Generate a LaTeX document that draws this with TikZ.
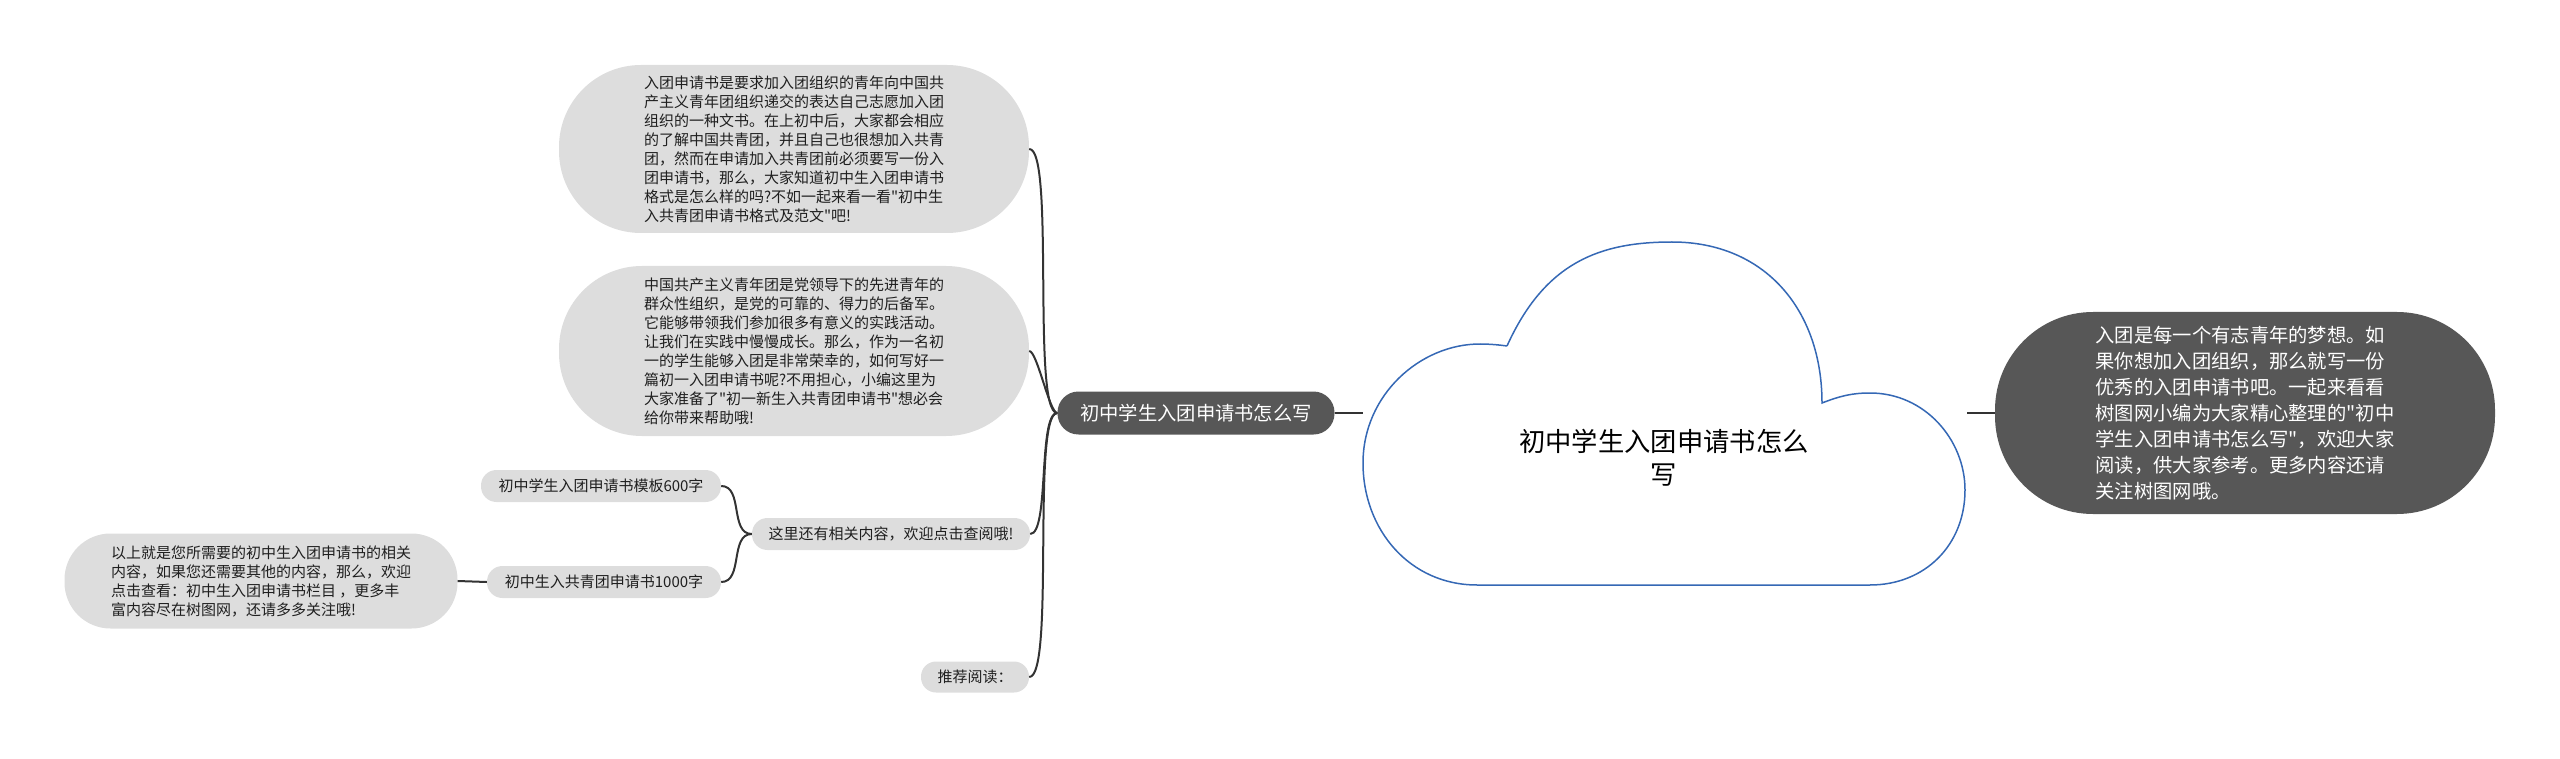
\documentclass[tikz,border=0pt]{standalone}
\usepackage{fontspec}
\usepackage{tikz}
\newfontfamily\cjk{Noto Sans CJK SC}[Ligatures=TeXOff]
\definecolor{bubc}{HTML}{DDDDDD}
\definecolor{darkc}{HTML}{575757}
\definecolor{linec}{HTML}{333333}
\definecolor{cloudc}{HTML}{3568B5}
\newcommand{\fs}[2]{\fontsize{#1pt}{#2pt}\selectfont}

\begin{document}
\begin{tikzpicture}[x=1pt,y=-1pt,
  bub/.style={fill=bubc,text=black!88,inner sep=0pt,align=left,font=\cjk\fs{15}{19}},
  dark/.style={fill=darkc,text=white,inner sep=0pt,align=left,font=\cjk\fs{19.3}{26}},
  ln/.style={draw=linec,line width=2pt}]
\useasboundingbox (0,0) rectangle (2560,759);
% cloud in the middle
\draw[cloudc,line width=1.5pt,fill=white] (1507,346)
  .. controls (1545,262) and (1600,242) .. (1672,242)
  .. controls (1765,242) and (1822,310) .. (1822,403)
  .. controls (1840,396) and (1852,393) .. (1870,393)
  .. controls (1925,393) and (1965,440) .. (1965,490)
  .. controls (1965,545) and (1925,585) .. (1870,585)
  -- (1477,585)
  .. controls (1410,585) and (1363,530) .. (1363,463)
  .. controls (1363,395) and (1420,344) .. (1480,344)
  .. controls (1490,344) and (1500,345) .. (1507,346);
\node[font=\cjk\fs{26.3}{33},align=center] (root) at (1664,458) {初中学生入团申请书怎么\\写};
\coordinate (rootw) at (1363,413);
\coordinate (roote) at (1967,413);
% right side
\node[dark,minimum width=500pt,minimum height=202pt,rounded corners=98pt] (intro) at (2245,413) {入团是每一个有志青年的梦想。如\\果你想加入团组织，那么就写一份\\优秀的入团申请书吧。一起来看看\\树图网小编为大家精心整理的"初中\\学生入团申请书怎么写"，欢迎大家\\阅读，供大家参考。更多内容还请\\关注树图网哦。};
% left branch
\node[dark,minimum width=277pt,minimum height=43pt,rounded corners=21pt] (br) at (1196,413) {初中学生入团申请书怎么写};
\node[bub,minimum width=470pt,minimum height=168pt,rounded corners=82pt] (a) at (794,149) {入团申请书是要求加入团组织的青年向中国共\\产主义青年团组织递交的表达自己志愿加入团\\组织的一种文书。在上初中后，大家都会相应\\的了解中国共青团，并且自己也很想加入共青\\团，然而在申请加入共青团前必须要写一份入\\团申请书，那么，大家知道初中生入团申请书\\格式是怎么样的吗?不如一起来看一看"初中生\\入共青团申请书格式及范文"吧!};
\node[bub,minimum width=470pt,minimum height=170pt,rounded corners=83pt] (b) at (794,351) {中国共产主义青年团是党领导下的先进青年的\\群众性组织，是党的可靠的、得力的后备军。\\它能够带领我们参加很多有意义的实践活动。\\让我们在实践中慢慢成长。那么，作为一名初\\一的学生能够入团是非常荣幸的，如何写好一\\篇初一入团申请书呢?不用担心，小编这里为\\大家准备了"初一新生入共青团申请书"想必会\\给你带来帮助哦!};
\node[bub,minimum width=278pt,minimum height=32pt,rounded corners=15.5pt] (more) at (891,534) {这里还有相关内容，欢迎点击查阅哦!};
\node[bub,minimum width=240pt,minimum height=32pt,rounded corners=15.5pt] (t600) at (601,486) {初中学生入团申请书模板600字};
\node[bub,minimum width=234pt,minimum height=32pt,rounded corners=15.5pt] (t1000) at (604,582) {初中生入共青团申请书1000字};
\node[bub,minimum width=393pt,minimum height=95pt,rounded corners=46pt] (outro) at (261,581) {以上就是您所需要的初中生入团申请书的相关\\内容，如果您还需要其他的内容，那么，欢迎\\点击查看：初中生入团申请书栏目 ，更多丰\\富内容尽在树图网，还请多多关注哦!};
\node[bub,minimum width=108pt,minimum height=31pt,rounded corners=15pt] (rec) at (975,677) {推荐阅读：};
% connectors
\draw[ln] (br.east) -- (rootw);
\draw[ln] (roote) -- (intro.west);
\draw[ln] (br.west) to[out=180,in=0,looseness=0.25] (a.east);
\draw[ln] (br.west) to[out=180,in=0,looseness=0.3] (b.east);
\draw[ln] (br.west) to[out=180,in=0,looseness=0.4] (more.east);
\draw[ln] (br.west) to[out=180,in=0,looseness=0.25] (rec.east);
\draw[ln] (more.west) to[out=180,in=0] (t600.east);
\draw[ln] (more.west) to[out=180,in=0] (t1000.east);
\draw[ln] (t1000.west) -- (outro.east);
\end{tikzpicture}
\end{document}
